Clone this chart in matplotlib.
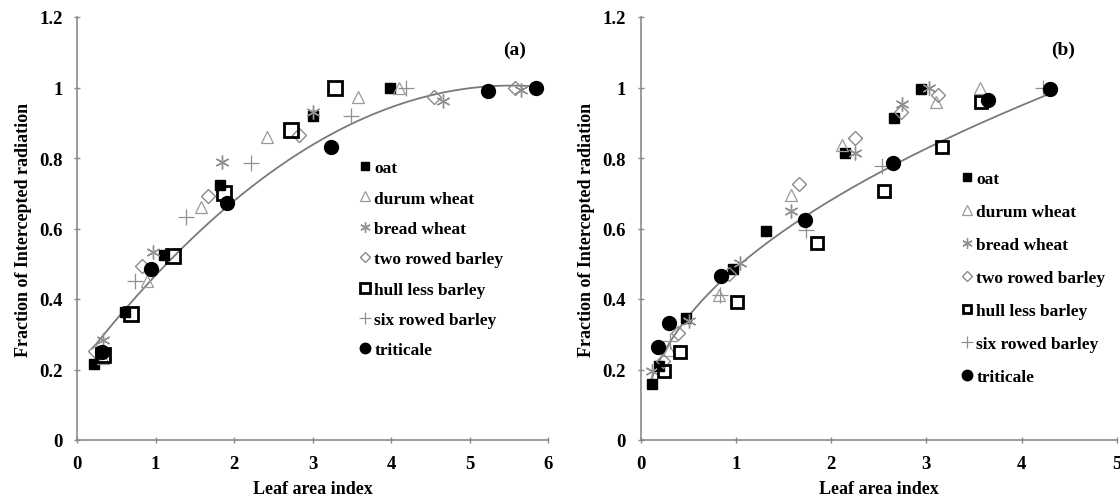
import numpy as np
import matplotlib
matplotlib.use("Agg")
import matplotlib.pyplot as plt

plt.rcParams['font.family'] = ['Liberation Serif', 'DejaVu Serif']
plt.rcParams['font.weight'] = 'bold'

series_names = ["oat", "durum wheat", "bread wheat", "two rowed barley",
                "hull less barley", "six rowed barley", "triticale"]

# ---- panel (a) data: leaf area index (x), fraction intercepted (y)
a_oat_x = [0.22, 0.61, 1.11, 1.82, 3.00, 3.99]
a_oat_y = [0.216, 0.364, 0.526, 0.724, 0.920, 1.000]
a_durum_x = [0.33, 0.89, 1.58, 2.42, 3.58, 4.10]
a_durum_y = [0.233, 0.450, 0.662, 0.860, 0.974, 1.000]
a_bread_x = [0.33, 0.97, 1.85, 3.00, 4.66, 5.66]
a_bread_y = [0.284, 0.534, 0.790, 0.930, 0.963, 0.994]
a_two_x = [0.23, 0.83, 1.67, 2.83, 4.55, 5.58]
a_two_y = [0.253, 0.494, 0.693, 0.864, 0.974, 1.000]
a_hull_x = [0.33, 0.69, 1.22, 1.87, 2.73, 3.29]
a_hull_y = [0.240, 0.358, 0.523, 0.700, 0.880, 1.000]
a_six_x = [0.74, 1.39, 2.22, 3.49, 4.19]
a_six_y = [0.452, 0.634, 0.785, 0.920, 1.000]
a_trit_x = [0.32, 0.94, 1.91, 3.24, 5.24, 5.85]
a_trit_y = [0.250, 0.486, 0.673, 0.832, 0.990, 1.000]

# ---- panel (b) data
b_oat_x = [0.12, 0.19, 0.48, 0.97, 1.32, 2.15, 2.66, 2.94]
b_oat_y = [0.159, 0.210, 0.347, 0.484, 0.594, 0.813, 0.914, 0.997]
b_durum_x = [0.30, 0.82, 1.58, 2.11, 3.10, 3.56]
b_durum_y = [0.256, 0.412, 0.695, 0.837, 0.959, 0.999]
b_bread_x = [0.12, 0.51, 1.04, 1.58, 2.25, 2.74, 3.03]
b_bread_y = [0.195, 0.338, 0.503, 0.650, 0.813, 0.952, 1.000]
b_two_x = [0.24, 0.39, 0.93, 1.66, 2.25, 2.73, 3.12]
b_two_y = [0.223, 0.303, 0.470, 0.727, 0.858, 0.931, 0.980]
b_hull_x = [0.25, 0.41, 1.01, 1.85, 2.56, 3.16, 3.57]
b_hull_y = [0.195, 0.251, 0.391, 0.558, 0.705, 0.830, 0.958]
b_six_x = [0.31, 0.83, 1.74, 2.53, 4.22]
b_six_y = [0.280, 0.412, 0.596, 0.778, 1.000]
b_trit_x = [0.18, 0.30, 0.84, 1.73, 2.65, 3.65, 4.30]
b_trit_y = [0.263, 0.331, 0.464, 0.624, 0.785, 0.964, 0.997]

# ---- fitted trend lines (coefficients)
a_fit_poly = [-0.0262, 0.2900, 0.2030]   # quadratic
a_fit_range = [0.2, 5.8]
b_fit_power = [0.488, 0.48]               # y = a * x^b
b_fit_range = [0.1, 4.3]

x_ticks_a = [0, 1, 2, 3, 4, 5, 6]
x_ticks_b = [0, 1, 2, 3, 4, 5]
y_ticks = [0, 0.2, 0.4, 0.6, 0.8, 1.0, 1.2]
y_tick_labels = ["0", "0.2", "0.4", "0.6", "0.8", "1", "1.2"]

GRAY = "#8a8a8a"

def make_styles(hull_ms):
    return [
        dict(marker='s', ms=7, mfc='black', mec='black', mew=1.0),
        dict(marker='^', ms=9, mfc='none', mec='#9a9a9a', mew=0.9),
        dict(marker=(6, 2, 0), ms=10, mfc='none', mec='#909090', mew=1.0),
        dict(marker='D', ms=7, mfc='none', mec='#8a8a8a', mew=1.0),
        dict(marker='s', ms=hull_ms, mfc='none', mec='black', mew=2.0),
        dict(marker='+', ms=12, mfc='none', mec='#909090', mew=0.9),
        dict(marker='o', ms=10, mfc='black', mec='black', mew=1.0),
    ]

fig = plt.figure(figsize=(11.2, 5.02), dpi=100)
ax_a = fig.add_axes([77/1120, 1-441/502, (548-77)/1120, (441-18)/502])
ax_b = fig.add_axes([640.5/1120, 1-441/502, (1117-640.5)/1120, (441-18)/502])

data_a = [(a_oat_x, a_oat_y), (a_durum_x, a_durum_y), (a_bread_x, a_bread_y),
          (a_two_x, a_two_y), (a_hull_x, a_hull_y), (a_six_x, a_six_y),
          (a_trit_x, a_trit_y)]
data_b = [(b_oat_x, b_oat_y), (b_durum_x, b_durum_y), (b_bread_x, b_bread_y),
          (b_two_x, b_two_y), (b_hull_x, b_hull_y), (b_six_x, b_six_y),
          (b_trit_x, b_trit_y)]

# trend lines
xa = np.linspace(a_fit_range[0], a_fit_range[1], 200)
ax_a.plot(xa, np.polyval(a_fit_poly, xa), color='#7a7a7a', lw=1.3, zorder=1)
xb = np.linspace(b_fit_range[0], b_fit_range[1], 200)
ax_b.plot(xb, b_fit_power[0] * xb ** b_fit_power[1], color='#7a7a7a', lw=1.3, zorder=1)

for ax, data, hull_ms in ((ax_a, data_a, 10), (ax_b, data_b, 8.5)):
    for (x, y), st, name in zip(data, make_styles(hull_ms), series_names):
        ax.plot(x, y, linestyle='none', label=name, zorder=3, **st)

def style_axes(ax, xmax, xticks):
    ax.set_xlim(0, xmax)
    ax.set_ylim(0, 1.2)
    ax.set_xticks(xticks)
    ax.set_xticklabels([str(t) for t in xticks])
    ax.set_yticks(y_ticks)
    ax.set_yticklabels(y_tick_labels)
    for s in ('top', 'right'):
        ax.spines[s].set_visible(False)
    for s in ('left', 'bottom'):
        ax.spines[s].set_color(GRAY)
        ax.spines[s].set_linewidth(1.2)
    ax.tick_params(axis='both', direction='inout', length=5, width=1,
                   color=GRAY, labelsize=13.5, pad=8)
    for lab in ax.get_xticklabels() + ax.get_yticklabels():
        lab.set_fontweight('bold')
    ax.set_xlabel("Leaf area index", fontsize=13, fontweight='bold', labelpad=6)
    ax.set_ylabel("Fraction of Intercepted radiation", fontsize=13,
                  fontweight='bold', labelpad=5)
    ax.patch.set_alpha(0)

style_axes(ax_a, 6, x_ticks_a)
style_axes(ax_b, 5, x_ticks_b)

fig.text(515/1120, 1 - 50/502, "(a)", fontsize=14, fontweight='bold',
         ha='center', va='center')
fig.text(1063/1120, 1 - 50/502, "(b)", fontsize=14, fontweight='bold',
         ha='center', va='center')

def legend_small(ax, x0, y0, spacing):
    leg = ax.legend(loc='upper left', bbox_to_anchor=(x0/1120, 1 - y0/502),
                    bbox_transform=fig.transFigure, frameon=False,
                    handletextpad=0.05, handlelength=1.0, labelspacing=spacing,
                    borderaxespad=0, borderpad=0, markerscale=0.75,
                    prop=dict(family='Liberation Serif', weight='bold', size=12.5))
    return leg

legend_small(ax_a, 356, 161, 0.82)
legend_small(ax_b, 958, 172, 0.97)

fig.savefig("out.png", dpi=100)
